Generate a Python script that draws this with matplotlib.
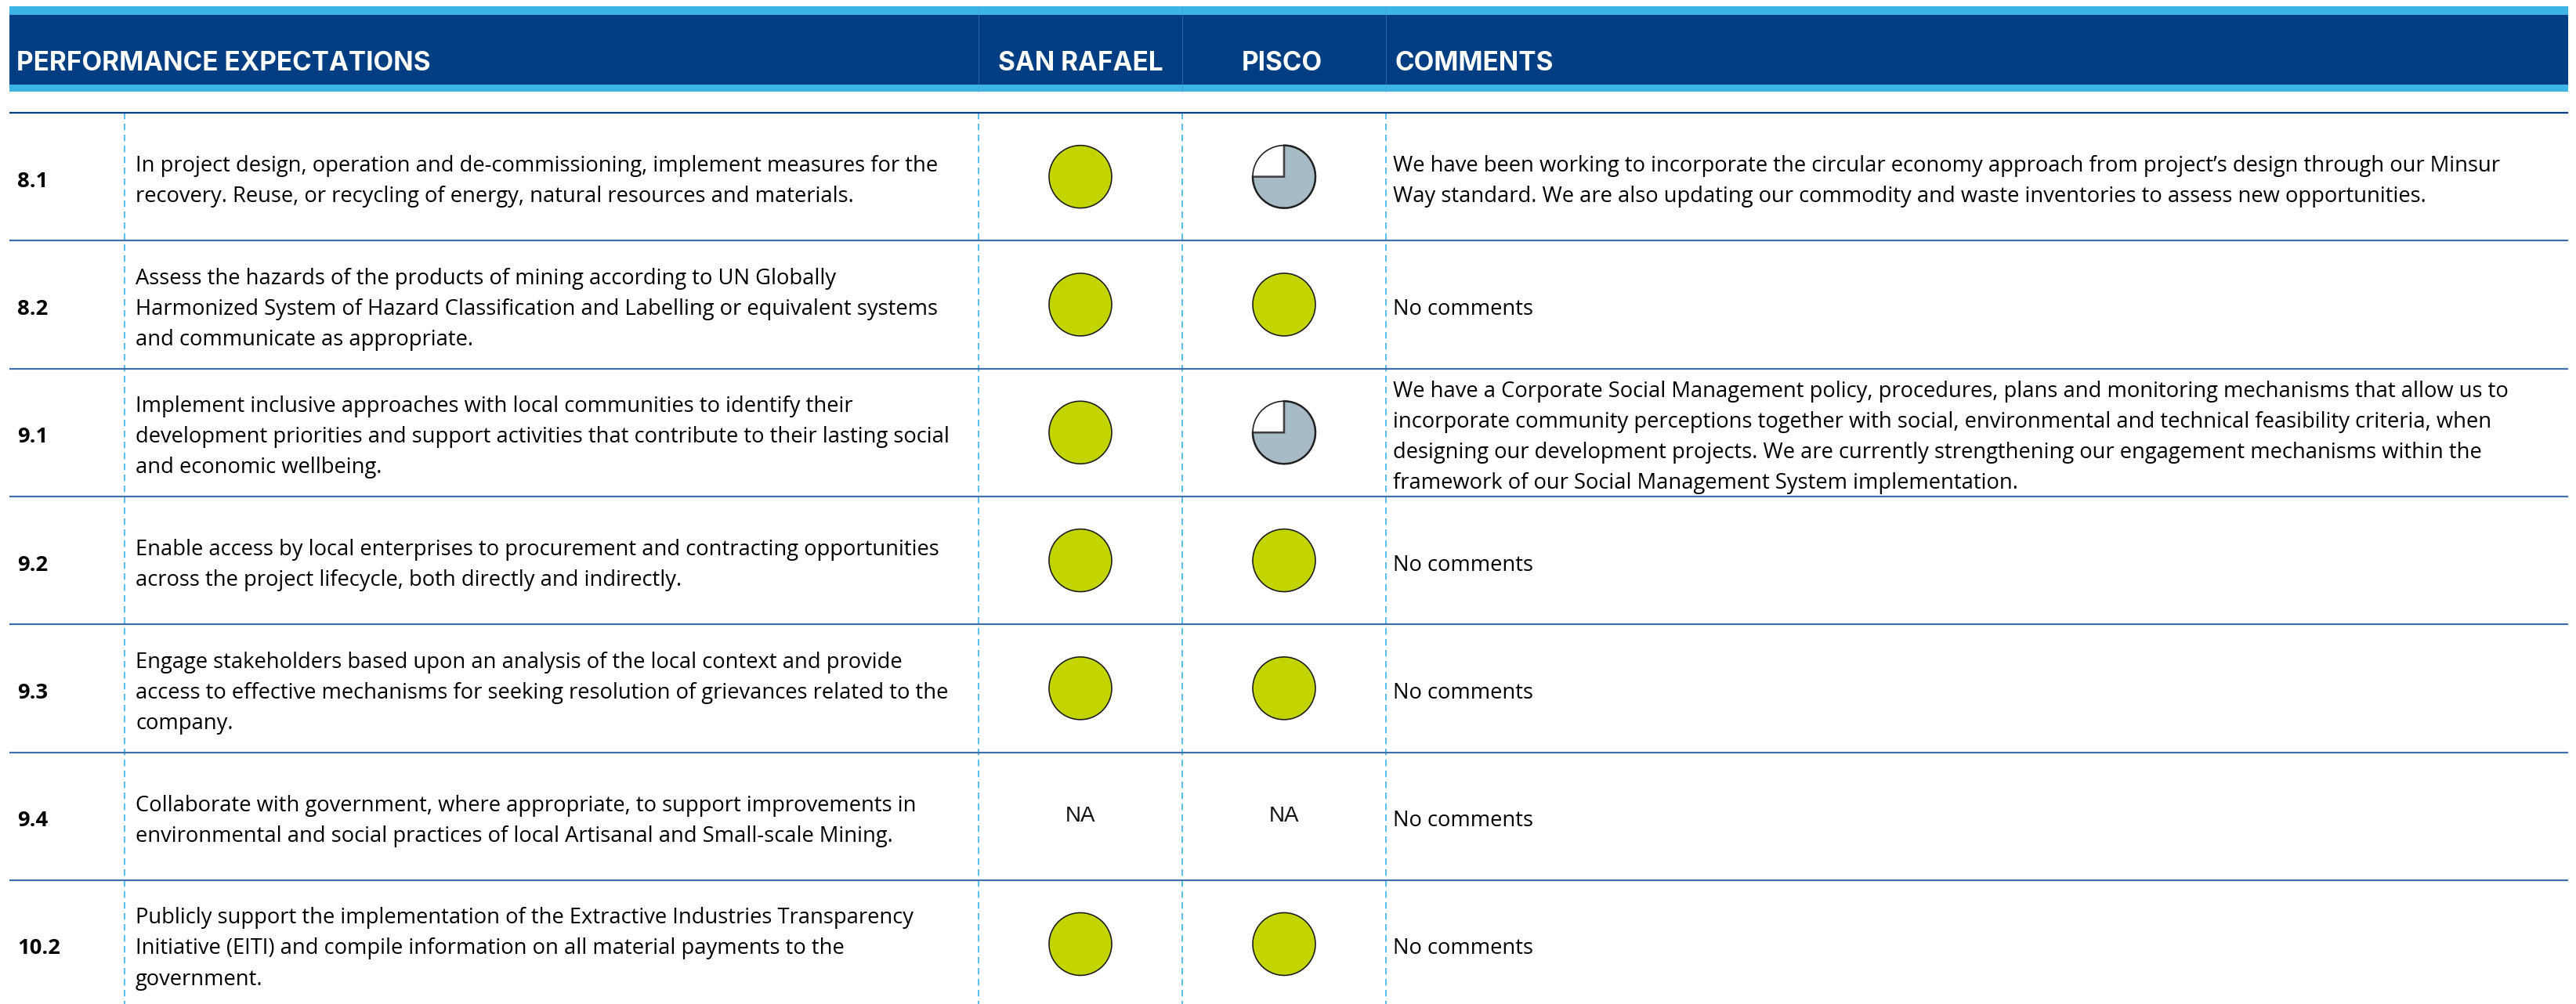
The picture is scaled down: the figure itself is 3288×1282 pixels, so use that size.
import matplotlib
matplotlib.use("Agg")
import matplotlib.pyplot as plt
from matplotlib.patches import Rectangle, Circle, Wedge

# ---------------- data ----------------
headers = ["PERFORMANCE EXPECTATIONS", "SAN RAFAEL", "PISCO", "COMMENTS"]
codes = ["8.1", "8.2", "9.1", "9.2", "9.3", "9.4", "10.2"]
descriptions = [
    "In project design, operation and de-commissioning, implement measures for the\nrecovery. Reuse, or recycling of energy, natural resources and materials.",
    "Assess the hazards of the products of mining according to UN Globally\nHarmonized System of Hazard Classification and Labelling or equivalent systems\nand communicate as appropriate.",
    "Implement inclusive approaches with local communities to identify their\ndevelopment priorities and support activities that contribute to their lasting social\nand economic wellbeing.",
    "Enable access by local enterprises to procurement and contracting opportunities\nacross the project lifecycle, both directly and indirectly.",
    "Engage stakeholders based upon an analysis of the local context and provide\naccess to effective mechanisms for seeking resolution of grievances related to the\ncompany.",
    "Collaborate with government, where appropriate, to support improvements in\nenvironmental and social practices of local Artisanal and Small-scale Mining.",
    "Publicly support the implementation of the Extractive Industries Transparency\nInitiative (EITI) and compile information on all material payments to the\ngovernment.",
]
# fraction of the expectation met (None = not applicable)
san_rafael = [1.0, 1.0, 1.0, 1.0, 1.0, None, 1.0]
pisco = [0.75, 1.0, 0.75, 1.0, 1.0, None, 1.0]
comments = [
    "We have been working to incorporate the circular economy approach from project\u2019s design through our Minsur\nWay standard. We are also updating our commodity and waste inventories to assess new opportunities.",
    "No comments",
    "We have a Corporate Social Management policy, procedures, plans and monitoring mechanisms that allow us to\nincorporate community perceptions together with social, environmental and technical feasibility criteria, when\ndesigning our development projects. We are currently strengthening our engagement mechanisms within the\nframework of our Social Management System implementation.",
    "No comments",
    "No comments",
    "No comments",
    "No comments",
]
na_label = "NA"

# ---------------- layout / style ----------------
W, H = 3288, 1282
DPI = 100
PX = 72.0 / DPI  # points per pixel

NAVY = "#003E84"
LIGHT = "#3CB4E6"
ROWLINE = "#3F6FAF"
DASH = "#5BBFEA"
GREEN = "#C2D500"
GREYBLUE = "#A7BBC7"

x_left, x_right = 12, 3278
row_top, row_h = 144, 163.3
col_sep = [159, 1249, 1509, 1769]
label_x, desc_x, comm_x = 22, 173, 1778
sr_cx = (col_sep[1] + col_sep[2]) / 2
pi_cx = (col_sep[2] + col_sep[3]) / 2
radius = 40
text_dy = 6

BODY_FONT = ["Open Sans", "DejaVu Sans"]
BODY_SIZE = 19.7
LINESP = 1.53

fig = plt.figure(figsize=(W / DPI, H / DPI), dpi=DPI)
ax = fig.add_axes([0, 0, 1, 1])
ax.set_xlim(0, W)
ax.set_ylim(H, 0)
ax.axis("off")

# header band
ax.add_patch(Rectangle((x_left, 8), x_right - x_left, 109, color=LIGHT, lw=0, zorder=1))
ax.add_patch(Rectangle((x_left, 19), x_right - x_left, 89, color=NAVY, lw=0, zorder=2))
for xs in col_sep[1:]:
    ax.plot([xs, xs], [8, 117], color="#5590C8", lw=1 * PX, alpha=0.5, zorder=3)

hdr_kw = dict(color="white", fontsize=24, fontweight="bold", family=["Inter", "DejaVu Sans"],
              va="baseline", zorder=4)
ax.text(21, 90, headers[0], ha="left", **hdr_kw)
ax.text(sr_cx, 90, headers[1], ha="center", **hdr_kw)
ax.text(pi_cx - 3, 90, headers[2], ha="center", **hdr_kw)
ax.text(comm_x + 2, 90, headers[3], ha="left", **hdr_kw)

n = len(codes)
# horizontal row lines
for i in range(n):
    y = row_top + i * row_h
    ax.plot([x_left, x_right], [y, y], color=NAVY if i == 0 else ROWLINE,
            lw=2.2 * PX, solid_capstyle="butt", zorder=3)

# dashed column separators
for xs in col_sep:
    ax.plot([xs, xs], [row_top, H], color=DASH, lw=2 * PX,
            linestyle=(0, (4.2, 2.8)), zorder=2)


def draw_status(cx, cy, frac):
    if frac is None:
        ax.text(cx, cy, na_label, ha="center", va="center", fontsize=20,
                family=["Liberation Sans", "DejaVu Sans"], color="#111111", zorder=5)
        return
    if frac >= 1.0:
        ax.add_patch(Circle((cx, cy), radius, facecolor=GREEN, edgecolor="#1a1a1a",
                            lw=1.6 * PX, zorder=5))
        return
    ax.add_patch(Circle((cx, cy), radius, facecolor="white", edgecolor="none", zorder=4))
    # y axis is inverted: data angle -90 is 12 o'clock, increasing angle = clockwise
    ax.add_patch(Wedge((cx, cy), radius, -90, -90 + 360 * frac, facecolor=GREYBLUE,
                       edgecolor="#404040", lw=2.6 * PX, zorder=5))
    ax.add_patch(Circle((cx, cy), radius, facecolor="none", edgecolor="#1a1a1a",
                        lw=1.6 * PX, zorder=6))


for i in range(n):
    cy = row_top + (i + 0.5) * row_h
    ty = cy + text_dy
    ax.text(label_x, ty, codes[i], ha="left", va="center", fontsize=BODY_SIZE,
            fontweight="bold", family=BODY_FONT, color="black", zorder=5)
    ax.text(desc_x, ty, descriptions[i], ha="left", va="center", fontsize=BODY_SIZE,
            family=BODY_FONT, color="black", linespacing=LINESP, zorder=5)
    ax.text(comm_x, ty, comments[i], ha="left", va="center", fontsize=BODY_SIZE,
            family=BODY_FONT, color="black", linespacing=LINESP, zorder=5)
    draw_status(sr_cx, cy, san_rafael[i])
    draw_status(pi_cx, cy, pisco[i])

fig.savefig("out.png", dpi=DPI, facecolor="white")
